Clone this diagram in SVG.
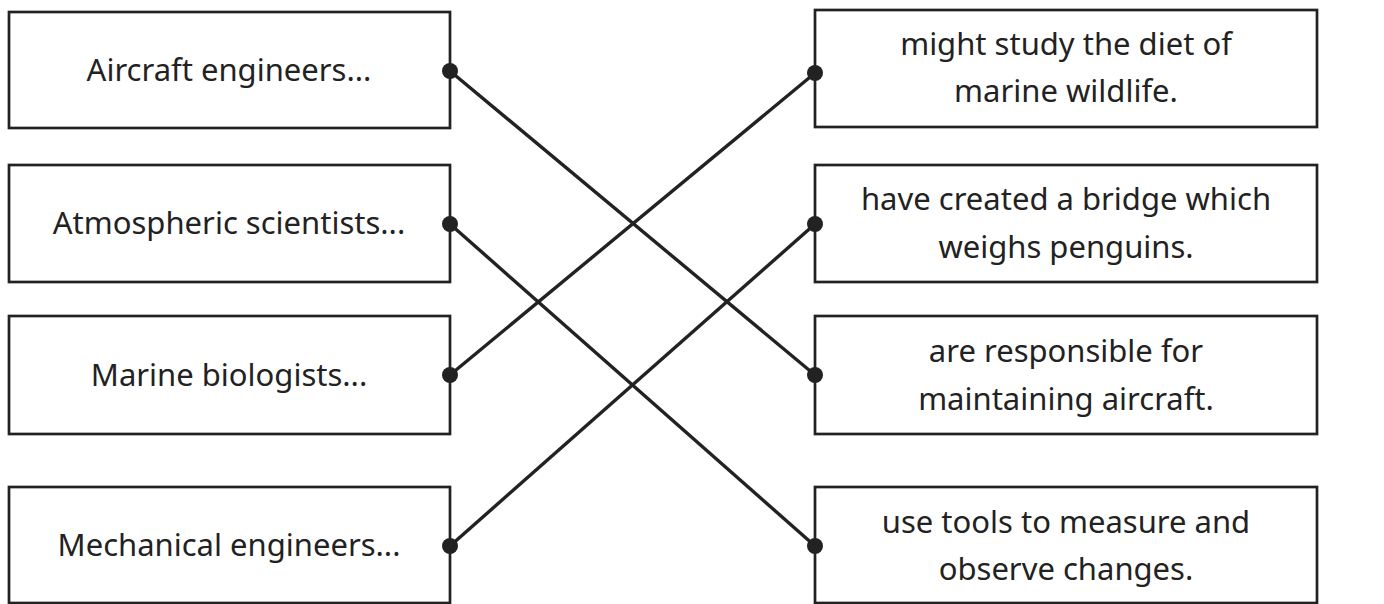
<svg xmlns="http://www.w3.org/2000/svg" width="1384" height="604" viewBox="0 0 1384 604">
<style>
.box{fill:#fff;stroke:#222;stroke-width:2.7}
.t{font-family:"Noto Sans","Open Sans",sans-serif;font-size:31px;fill:#222;text-anchor:middle}
.c{stroke:#222;stroke-width:3.4;fill:none}
.d{fill:#222}
</style>
<rect width="1384" height="604" fill="#fff"/>
<g id="n-aircraft"><rect class="box" x="9" y="12" width="441" height="116"/><text class="t" x="229" y="81">Aircraft engineers...</text></g>
<g id="n-atmospheric"><rect class="box" x="9" y="165" width="441" height="117"/><text class="t" x="229" y="234">Atmospheric scientists...</text></g>
<g id="n-marine"><rect class="box" x="9" y="316" width="441" height="118"/><text class="t" x="229" y="386">Marine biologists...</text></g>
<g id="n-mechanical"><rect class="box" x="9" y="487" width="441" height="116"/><text class="t" x="229" y="556">Mechanical engineers...</text></g>
<g id="n-diet"><rect class="box" x="815" y="10" width="502" height="117"/><text class="t" x="1066" y="55">might study the diet of</text><text class="t" x="1066" y="102">marine wildlife.</text></g>
<g id="n-bridge"><rect class="box" x="815" y="165" width="502" height="117"/><text class="t" x="1066" y="210">have created a bridge which</text><text class="t" x="1066" y="258">weighs penguins.</text></g>
<g id="n-aircraft2"><rect class="box" x="815" y="316" width="502" height="118"/><text class="t" x="1066" y="362">are responsible for</text><text class="t" x="1066" y="410">maintaining aircraft.</text></g>
<g id="n-tools"><rect class="box" x="815" y="487" width="502" height="116"/><text class="t" x="1066" y="533">use tools to measure and</text><text class="t" x="1066" y="580">observe changes.</text></g>
<g id="connectors">
<line class="c" x1="450" y1="71" x2="815" y2="375"/>
<line class="c" x1="450" y1="224" x2="815" y2="546"/>
<line class="c" x1="450" y1="375" x2="815" y2="73"/>
<line class="c" x1="450" y1="546" x2="815" y2="224"/>
<circle class="d" cx="450" cy="71" r="8"/>
<circle class="d" cx="450" cy="224" r="8"/>
<circle class="d" cx="450" cy="375" r="8"/>
<circle class="d" cx="450" cy="546" r="8"/>
<circle class="d" cx="815" cy="73" r="8"/>
<circle class="d" cx="815" cy="224" r="8"/>
<circle class="d" cx="815" cy="375" r="8"/>
<circle class="d" cx="815" cy="546" r="8"/>
</g>
</svg>
